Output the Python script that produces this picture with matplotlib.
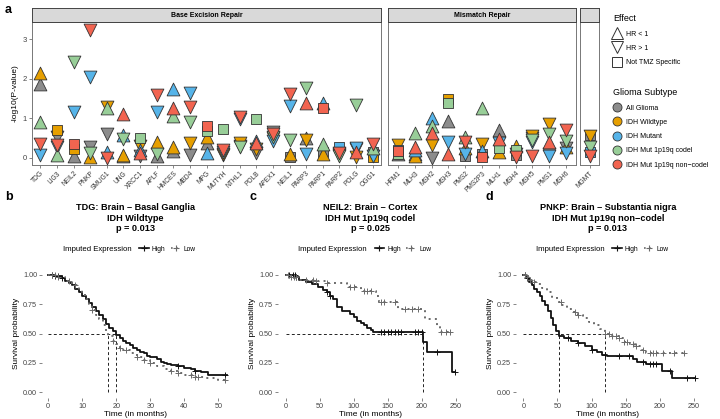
import numpy as np
import matplotlib
matplotlib.use('Agg')
import matplotlib.pyplot as plt
from matplotlib.lines import Line2D

plt.rcParams['font.family'] = ['Liberation Sans', 'DejaVu Sans']

# ---------------- panel a data ----------------
ber_genes = ['TDG', 'LIG3', 'NEIL2', 'PNKP', 'SMUG1', 'UNG', 'XRCC1', 'APLF', 'HMCES', 'MBD4', 'MPG',
             'MUTYH', 'NTHL1', 'POLB', 'APEX1', 'NEIL1', 'PARP3', 'PARP1', 'PARP2', 'POLG', 'OGG1']
mmr_genes = ['HFM1', 'MLH3', 'MSH2', 'MSH3', 'PMS2', 'PMS2P3', 'MLH1', 'MSH4', 'MSH5', 'PMS1', 'MSH6']
dr_genes = ['MGMT']
genes = ber_genes + mmr_genes + dr_genes

subtypes = ['All Glioma', 'IDH Wildtype', 'IDH Mutant', 'IDH Mut 1p19q codel', 'IDH Mut 1p19q non-codel']
sub_colors = ['#8c8c8c', '#E69F00', '#56B4E9', '#98CE98', '#F26450']

# -log10(p) per gene, one list per subtype (same gene order as `genes`)
all_glioma = [1.87, 0.52, 0.05, 0.28, 0.61, 0.04, 0.04, 0.05, 0.17, 0.07, 0.38,
              0.08, 0.30, 0.13, 0.65, 0.02, 0.50, 0.16, 0.08, 0.22, 0.16,
              0.10, 0.10, 0.00, 0.94, 0.05, 0.10, 0.71, 0.08, 0.50, 0.10, 0.25,
              0.59]
idh_wt = [2.16, 0.70, 0.22, 0.03, 1.30, 0.07, 0.30, 0.41, 0.28, 0.38, 0.54,
          0.09, 0.38, 0.23, 0.50, 0.10, 0.46, 0.10, 0.10, 0.02, 0.02,
          0.33, 0.06, 0.32, 1.49, 0.25, 0.35, 0.15, 0.31, 0.55, 0.86, 0.27,
          0.55]
idh_mut = [0.08, 0.27, 1.15, 2.04, 0.15, 0.59, 0.21, 1.17, 1.75, 1.64, 0.12,
           0.14, 0.98, 0.42, 0.42, 1.32, 0.10, 1.38, 0.28, 0.24, 0.05,
           0.20, 0.20, 1.02, 0.41, 0.10, 0.18, 0.38, 0.10, 0.40, 0.04, 0.13,
           0.14]
codel = [0.91, 0.08, 2.44, 0.12, 1.26, 0.48, 0.50, 0.10, 1.06, 0.92, 0.68,
         0.72, 0.27, 0.98, 0.52, 0.45, 1.78, 0.35, 0.04, 1.35, 0.24,
         0.10, 0.64, 0.80, 1.40, 0.54, 1.27, 0.25, 0.19, 0.45, 0.60, 0.42,
         0.27]
noncodel = [0.35, 0.33, 0.34, 3.25, 0.00, 1.11, 0.13, 1.60, 1.27, 1.30, 0.80,
            0.21, 1.04, 0.38, 0.60, 1.62, 1.39, 1.26, 0.13, 0.16, 0.34,
            0.17, 0.28, 0.63, 0.11, 0.40, 0.03, 0.49, 0.03, 0.06, 0.40, 0.71,
            0.04]

# effect: u = HR < 1, d = HR > 1, s = Not TMZ Specific
eff_all = ['u', 'd', 'u', 'd', 'd', 'u', 'd', 'u', 'u', 'd', 'u',
           'd', 'd', 'd', 'd', 's', 'u', 's', 'd', 'd', 's',
           'u', 'u', 'd', 'u', 's', 's', 'u', 's', 'd', 'd', 'd',
           's']
eff_wt = ['u', 's', 's', 'u', 'd', 'u', 'd', 'u', 'u', 'd', 'u',
          'd', 'd', 'd', 'd', 'u', 'd', 'u', 'd', 'd', 's',
          'd', 'u', 'd', 's', 'u', 'd', 'u', 'u', 'd', 'd', 'u',
          'd']
eff_mut = ['d', 'd', 'd', 'd', 'u', 'u', 'u', 'd', 'u', 'd', 'u',
           'd', 'd', 'u', 'd', 'd', 'd', 'u', 's', 'd', 'd',
           's', 'u', 'u', 'd', 'd', 'u', 'd', 'd', 'd', 'd', 'd',
           's']
eff_codel = ['u', 'u', 'd', 'd', 'u', 'd', 's', 'd', 'u', 'd', 's',
             's', 'd', 's', 'd', 'd', 'd', 'u', 'd', 'd', 'u',
             's', 'u', 'u', 's', 'u', 'u', 's', 's', 'd', 'd', 'd',
             'd']
eff_noncodel = ['d', 'd', 's', 'd', 'd', 'u', 'u', 'd', 'u', 'd', 's',
                'd', 'd', 'u', 'd', 'd', 'u', 's', 'd', 'u', 'd',
                's', 'u', 'u', 'u', 'd', 's', 'u', 'd', 'd', 'u', 'd',
                'd']

values = [all_glioma, idh_wt, idh_mut, codel, noncodel]
effects = [eff_all, eff_wt, eff_mut, eff_codel, eff_noncodel]

facets = [('Base Excision Repair', ber_genes), ('Mismatch Repair', mmr_genes), ('', dr_genes)]

# ---------------- KM data ----------------
b_high_t = [0, 2, 4, 5, 6, 7, 8, 9, 10, 11, 12, 13, 14, 15, 16, 17, 18, 19, 20, 21, 22, 23, 24, 25, 26,
            27, 28, 29, 30, 32, 33, 34, 35, 36, 38, 40, 42, 43, 45, 47]
b_high_s = [1.0, 0.99, 0.97, 0.95, 0.93, 0.91, 0.88, 0.85, 0.82, 0.79, 0.76, 0.73, 0.69, 0.66, 0.62, 0.58,
            0.55, 0.52, 0.49, 0.46, 0.44, 0.42, 0.40, 0.38, 0.36, 0.34, 0.33, 0.31, 0.30, 0.28, 0.26, 0.25,
            0.24, 0.23, 0.22, 0.21, 0.20, 0.18, 0.17, 0.15]
b_high_end = 52.5
b_high_cens = [1, 2, 3, 4, 38, 43, 52]
b_low_t = [0, 3, 5, 7, 9, 10, 11, 12, 13, 14, 15, 16, 17, 17.5, 19, 20, 21, 22, 24, 26, 28, 30, 32, 34, 36,
           38, 40, 43, 46, 50]
b_low_s = [1.0, 0.98, 0.95, 0.91, 0.87, 0.83, 0.79, 0.75, 0.70, 0.66, 0.62, 0.57, 0.52, 0.48, 0.44, 0.41,
           0.38, 0.36, 0.33, 0.30, 0.27, 0.25, 0.22, 0.20, 0.18, 0.16, 0.15, 0.13, 0.12, 0.10]
b_low_end = 52.5
b_low_cens = [1, 2, 3, 6, 8, 13, 19, 21, 23, 26, 28, 30, 36, 38, 42, 43, 44, 52]

c_high_t = [0, 15, 20, 30, 38, 48, 55, 60, 65, 70, 75, 82, 95, 100, 105, 110, 115, 120, 125, 128, 202, 207, 244]
c_high_s = [1.0, 0.98, 0.96, 0.94, 0.92, 0.90, 0.87, 0.85, 0.82, 0.79, 0.73, 0.69, 0.67, 0.64, 0.61, 0.59,
            0.57, 0.55, 0.53, 0.51, 0.43, 0.34, 0.17]
c_high_end = 248
c_high_cens = [5, 10, 13, 15, 60, 65, 140, 145, 150, 155, 160, 165, 170, 190, 195, 200, 222, 248]
c_low_t = [0, 8, 20, 45, 60, 90, 110, 132, 137, 165, 205, 222, 226]
c_low_s = [1.0, 0.98, 0.96, 0.95, 0.93, 0.90, 0.86, 0.82, 0.77, 0.71, 0.62, 0.56, 0.51]
c_low_end = 246
c_low_cens = [3, 8, 12, 15, 30, 40, 45, 60, 95, 100, 115, 120, 125, 140, 145, 160, 175, 185, 195, 228, 235, 242]

d_high_t = [0, 4, 8, 12, 16, 20, 24, 28, 32, 36, 40, 44, 48, 52, 60, 70, 80, 90, 100, 108, 115, 122, 160,
            166, 180, 203, 218]
d_high_s = [1.0, 0.97, 0.94, 0.91, 0.88, 0.85, 0.82, 0.78, 0.74, 0.69, 0.63, 0.57, 0.52, 0.48, 0.46, 0.44,
            0.42, 0.39, 0.36, 0.34, 0.32, 0.31, 0.28, 0.26, 0.24, 0.18, 0.12]
d_high_end = 252
d_high_cens = [3, 5, 65, 80, 100, 120, 140, 155, 175, 185, 190, 195, 215, 240, 252]
d_low_t = [0, 5, 10, 15, 20, 27, 34, 42, 50, 56, 64, 72, 80, 88, 96, 104, 112, 119, 130, 140, 148, 156,
           164, 172, 180]
d_low_s = [1.0, 0.98, 0.96, 0.94, 0.92, 0.89, 0.85, 0.81, 0.77, 0.74, 0.71, 0.68, 0.66, 0.63, 0.60, 0.57,
           0.54, 0.50, 0.48, 0.46, 0.43, 0.41, 0.39, 0.36, 0.33]
d_low_end = 238
d_low_cens = [2, 6, 10, 15, 55, 75, 80, 120, 125, 130, 135, 140, 148, 152, 160, 165, 175, 185, 190, 195,
              205, 220, 235]

km_panels = [
    ('b', 'TDG: Brain \u2013 Basal Ganglia\nIDH Wildtype\np = 0.013',
     (b_high_t, b_high_s, b_high_end, b_high_cens), (b_low_t, b_low_s, b_low_end, b_low_cens),
     [0, 10, 20, 30, 40, 50]),
    ('c', 'NEIL2: Brain \u2013 Cortex\nIDH Mut 1p19q codel\np = 0.025',
     (c_high_t, c_high_s, c_high_end, c_high_cens), (c_low_t, c_low_s, c_low_end, c_low_cens),
     [0, 50, 100, 150, 200, 250]),
    ('d', 'PNKP: Brain \u2013 Substantia nigra\nIDH Mut 1p19q non\u2212codel\np = 0.013',
     (d_high_t, d_high_s, d_high_end, d_high_cens), (d_low_t, d_low_s, d_low_end, d_low_cens),
     [0, 50, 100, 150, 200, 250]),
]

W, H = 720, 419
fig = plt.figure(figsize=(W / 100, H / 100), dpi=100)


def px_axes(x0, y0, x1, y1):
    return fig.add_axes([x0 / W, 1 - y1 / H, (x1 - x0) / W, (y1 - y0) / H])


mk = {'u': '^', 'd': 'v', 's': 's'}
msize = {'u': 85, 'd': 85, 's': 50}

# ---------------- panel a ----------------
facet_px = [(32, 381, -0.5, 20.5), (388, 576, -0.6, 10.6), (580, 599, -0.55, 0.55)]
offset = 0
for fi, (name, glist) in enumerate(facets):
    x0, x1, lo, hi = facet_px[fi]
    ax = px_axes(x0, 22, x1, 165)
    strip = px_axes(x0, 8, x1, 22)
    strip.set_facecolor('#d9d9d9')
    strip.set_xticks([])
    strip.set_yticks([])
    for s in strip.spines.values():
        s.set_color('#444444')
        s.set_linewidth(0.7)
    strip.text(0.5, 0.45, name, ha='center', va='center', fontsize=5, fontweight='bold',
               transform=strip.transAxes)

    n = len(glist)
    xs = np.arange(n)
    for si in range(len(subtypes)):
        vals = np.array(values[si][offset:offset + n])
        effs = effects[si][offset:offset + n]
        for key in ['u', 'd', 's']:
            sel = np.array([e == key for e in effs])
            if sel.any():
                ax.scatter(xs[sel], vals[sel], marker=mk[key], s=msize[key], c=sub_colors[si],
                           edgecolors='#333333', linewidths=0.6, zorder=3 + si)
    offset += n

    ax.set_xlim(lo, hi)
    ax.set_ylim(-0.18, 3.44)
    ax.set_xticks(xs)
    ax.set_xticklabels(glist, rotation=45, ha='right', rotation_mode='anchor', fontsize=4.8,
                       color='#333333')
    ax.tick_params(axis='x', length=2, width=0.5, color='#555555', pad=1.5)
    if fi == 0:
        ax.set_yticks([0, 1, 2, 3])
        ax.tick_params(axis='y', length=2, width=0.5, color='#555555', labelsize=5.5, pad=1.5,
                       labelcolor='#444444')
        ax.set_ylabel('-log10(P-value)', fontsize=6, labelpad=3)
    else:
        ax.set_yticks([])
    for s in ax.spines.values():
        s.set_color('#777777')
        s.set_linewidth(0.7)

fig.text(5 / W, 1 - 10 / H, 'a', fontsize=9, fontweight='bold', va='center')

# legends for panel a
eff_handles = [Line2D([], [], marker='^', ls='none', mfc='white', mec='#333333', ms=9, mew=0.7),
               Line2D([], [], marker='v', ls='none', mfc='white', mec='#333333', ms=9, mew=0.7),
               Line2D([], [], marker='s', ls='none', mfc='white', mec='#333333', ms=6.5, mew=0.7)]
leg1 = fig.legend(eff_handles, ['HR < 1', 'HR > 1', 'Not TMZ Specific'], loc='upper left',
                  bbox_to_anchor=(607 / W, 1 - 8 / H), frameon=False, fontsize=5, title='Effect',
                  title_fontsize=6.5, alignment='left', labelspacing=1.05, handletextpad=0.6,
                  handlelength=1.2)
sub_handles = [Line2D([], [], marker='o', ls='none', mfc=c, mec='#333333', ms=6.5, mew=0.6)
               for c in sub_colors]
leg2 = fig.legend(sub_handles, ['All Glioma', 'IDH Wildtype', 'IDH Mutant', 'IDH Mut 1p19q codel',
                                'IDH Mut 1p19q non\u2212codel'], loc='upper left',
                  bbox_to_anchor=(607 / W, 1 - 82 / H), frameon=False, fontsize=5,
                  title='Glioma Subtype', title_fontsize=6.5, alignment='left', labelspacing=1.05,
                  handletextpad=0.6, handlelength=1.2)

# ---------------- KM panels ----------------
km_px = [(42, 228, -1.8, 52.8, 5), (278, 463, -11.3, 260.4, 249), (516, 700, -10.7, 258.7, 485)]


def step_value(t_list, s_list, t):
    idx = np.searchsorted(np.array(t_list), t, side='right') - 1
    return np.array(s_list)[idx]


def median_time(t_list, s_list):
    for t, s in zip(t_list, s_list):
        if s <= 0.5:
            return t
    return None


for pi, (letter, title, high, low, xt) in enumerate(km_panels):
    x0, x1, lo, hi, lx = km_px[pi]
    ax = px_axes(x0, 269, x1, 398)
    meds = []
    for (tt, ss, tend, cens), col, ls in [(high, '#111111', '-'), (low, '#6a6a6a', (0, (1, 2.2)))]:
        tx = list(tt) + [tend]
        sx = list(ss) + [ss[-1]]
        ax.step(tx, sx, where='post', color=col, lw=1.3 if ls == '-' else 1.4, ls=ls, zorder=3)
        cy = step_value(tt, ss, cens)
        ax.plot(cens, cy, ls='none', marker='+', color=col, ms=4.5, mew=0.7, zorder=4)
        m = median_time(tt, ss)
        if m is not None:
            meds.append(m)
    if meds:
        ax.plot([0, max(meds)], [0.5, 0.5], ls=(0, (3, 2.5)), color='#222222', lw=0.7, zorder=2)
        for m in meds:
            ax.plot([m, m], [0, 0.5], ls=(0, (3, 2.5)), color='#222222', lw=0.7, zorder=2)
    ax.set_xlim(lo, hi)
    ax.set_ylim(-0.05, 1.05)
    ax.set_xticks(xt)
    ax.set_yticks([0, 0.25, 0.5, 0.75, 1.0])
    ax.set_yticklabels(['0.00', '0.25', '0.50', '0.75', '1.00'])
    ax.tick_params(length=2, width=0.5, color='#555555', labelsize=5.2, labelcolor='#444444', pad=1.5)
    for s in ax.spines.values():
        s.set_visible(False)
    ax.set_xlabel('Time (in months)', fontsize=6, labelpad=1)
    ax.set_ylabel('Survival probability', fontsize=6, labelpad=2)

    cx = (x0 + x1) / 2 / W
    fig.text(cx, 1 - 218 / H, title, ha='center', va='center', fontsize=6.6, fontweight='bold',
             linespacing=1.15)
    fig.text(lx / W, 1 - 197 / H, letter, fontsize=9, fontweight='bold', va='center')

    # legend row
    leg_h = [Line2D([], [], color='#111111', lw=1.2, marker='+', ms=4, mew=0.8),
             Line2D([], [], color='#6a6a6a', lw=1.2, ls=(0, (1, 2)), marker='+', ms=4, mew=0.8)]
    fig.text(cx - 0.053, 1 - 249 / H, 'Imputed Expression', ha='center', va='center', fontsize=5.6)
    fig.legend(leg_h, ['High', 'Low'], loc='center left', bbox_to_anchor=(cx + 0.006, 1 - 249 / H),
               ncol=2, frameon=False, fontsize=4.8, handlelength=1.4, handletextpad=0.5,
               columnspacing=0.8, borderpad=0, borderaxespad=0)

fig.savefig('out.png', dpi=100)
